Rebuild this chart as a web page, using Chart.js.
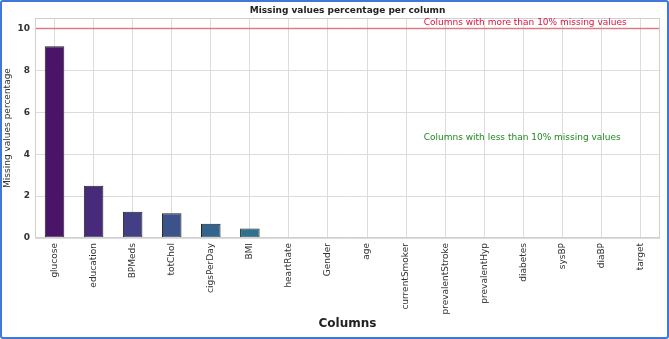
<!DOCTYPE html>
<html>
<head>
<meta charset="utf-8">
<script src="https://cdn.jsdelivr.net/npm/chart.js@4.4.1/dist/chart.umd.min.js"></script>
<style>
    html, body { margin: 0; padding: 0; background: #fff; }
    .frame {
        width: 669px;
        height: 339px;
        box-sizing: border-box;
        border: 2px solid #3f78d6;
        border-radius: 3px;
        position: relative;
    }
    canvas { display: block; }
</style>
</head>
<body>
<div class="frame">
    <canvas id="chart" width="665" height="335"></canvas>
</div>
<script>
const columns = ['glucose', 'education', 'BPMeds', 'totChol', 'cigsPerDay', 'BMI', 'heartRate', 'Gender',
    'age', 'currentSmoker', 'prevalentStroke', 'prevalentHyp', 'diabetes', 'sysBP', 'diaBP', 'target'];
const missingPercent = [9.15, 2.49, 1.25, 1.18, 0.68, 0.45, 0.02, 0, 0, 0, 0, 0, 0, 0, 0, 0];
const barColors = ['#4a1468', '#472a7a', '#423f85', '#3b528b', '#32648e', '#2c728e', '#26828e', '#21918c',
    '#1fa088', '#28ae80', '#3fbc73', '#5ec962', '#84d44b', '#addc30', '#d8e219', '#fde725'];
const threshold = 10;
const yTicks = [0, 2, 4, 6, 8, 10];

const font = 'DejaVu Sans';
const chartTitle = 'Missing values percentage per column';

// title over the plot, red threshold line, frame and the two notes
const overlayPlugin = {
    id: 'overlay',
    beforeDatasetsDraw(chart) {
        const { ctx, chartArea, scales } = chart;
        const y = scales.y.getPixelForValue(threshold);
        ctx.save();
        ctx.strokeStyle = 'rgba(220, 80, 90, 0.7)';
        ctx.lineWidth = 1.5;
        ctx.beginPath();
        ctx.moveTo(chartArea.left, y);
        ctx.lineTo(chartArea.right, y);
        ctx.stroke();
        ctx.restore();
    },
    afterDatasetsDraw(chart) {
        const { ctx, chartArea, scales } = chart;
        ctx.save();
        ctx.strokeStyle = '#d0d0d0';
        ctx.lineWidth = 1;
        ctx.strokeRect(chartArea.left + 0.5, chartArea.top + 0.5,
            chartArea.right - chartArea.left - 1, chartArea.bottom - chartArea.top - 1);

        ctx.fillStyle = '#222';
        ctx.font = 'bold 9px "' + font + '"';
        ctx.textAlign = 'center';
        ctx.textBaseline = 'middle';
        ctx.fillText(chartTitle, (chartArea.left + chartArea.right) / 2, 9);

        ctx.font = '9px "' + font + '"';
        ctx.textAlign = 'left';
        const noteX = scales.x.getPixelForValue(9.45);
        ctx.fillStyle = '#dc143c';
        ctx.fillText('Columns with more than 10% missing values', noteX, scales.y.getPixelForValue(10.28));
        ctx.fillStyle = '#1e8a1e';
        ctx.fillText('Columns with less than 10% missing values', noteX, scales.y.getPixelForValue(4.8));
        ctx.restore();
    }
};

const ctx = document.getElementById('chart').getContext('2d');
const chart = new Chart(ctx, {
    type: 'bar',
    data: {
        labels: columns,
        datasets: [{
            data: missingPercent,
            backgroundColor: barColors,
            borderColor: '#222',
            borderWidth: 1,
            borderSkipped: false,
            barPercentage: 0.5,
            categoryPercentage: 1
        }]
    },
    options: {
        responsive: false,
        animation: false,
        layout: { padding: { left: 0, right: 7, top: 16, bottom: 0 } },
        plugins: {
            legend: { display: false },
            tooltip: { enabled: false },
            title: { display: false }
        },
        scales: {
            x: {
                grid: { color: '#dcdcdc', offset: false, drawTicks: false },
                border: { display: false },
                ticks: {
                    color: '#333',
                    font: { family: font, size: 9 },
                    minRotation: 90,
                    maxRotation: 90,
                    autoSkip: false,
                    padding: 5
                },
                afterFit(scale) {
                    scale.height = 99;
                },
                title: {
                    display: true,
                    text: 'Columns',
                    color: '#222',
                    font: { family: font, size: 12, weight: 'bold' },
                    padding: { top: 2, bottom: 6 }
                }
            },
            y: {
                min: 0,
                max: 10.5,
                afterBuildTicks(scale) {
                    scale.ticks = yTicks.map(v => ({ value: v }));
                },
                afterFit(scale) {
                    scale.width = 33;
                },
                grid: { color: '#dcdcdc', drawTicks: false },
                border: { display: false },
                ticks: {
                    color: '#333',
                    font: { family: font, size: 9, weight: 'bold' },
                    padding: 5
                },
                title: {
                    display: true,
                    text: 'Missing values percentage',
                    color: '#333',
                    font: { family: font, size: 9 },
                    padding: { top: 0, bottom: 2 }
                }
            }
        }
    },
    plugins: [overlayPlugin]
});
</script>
</body>
</html>
